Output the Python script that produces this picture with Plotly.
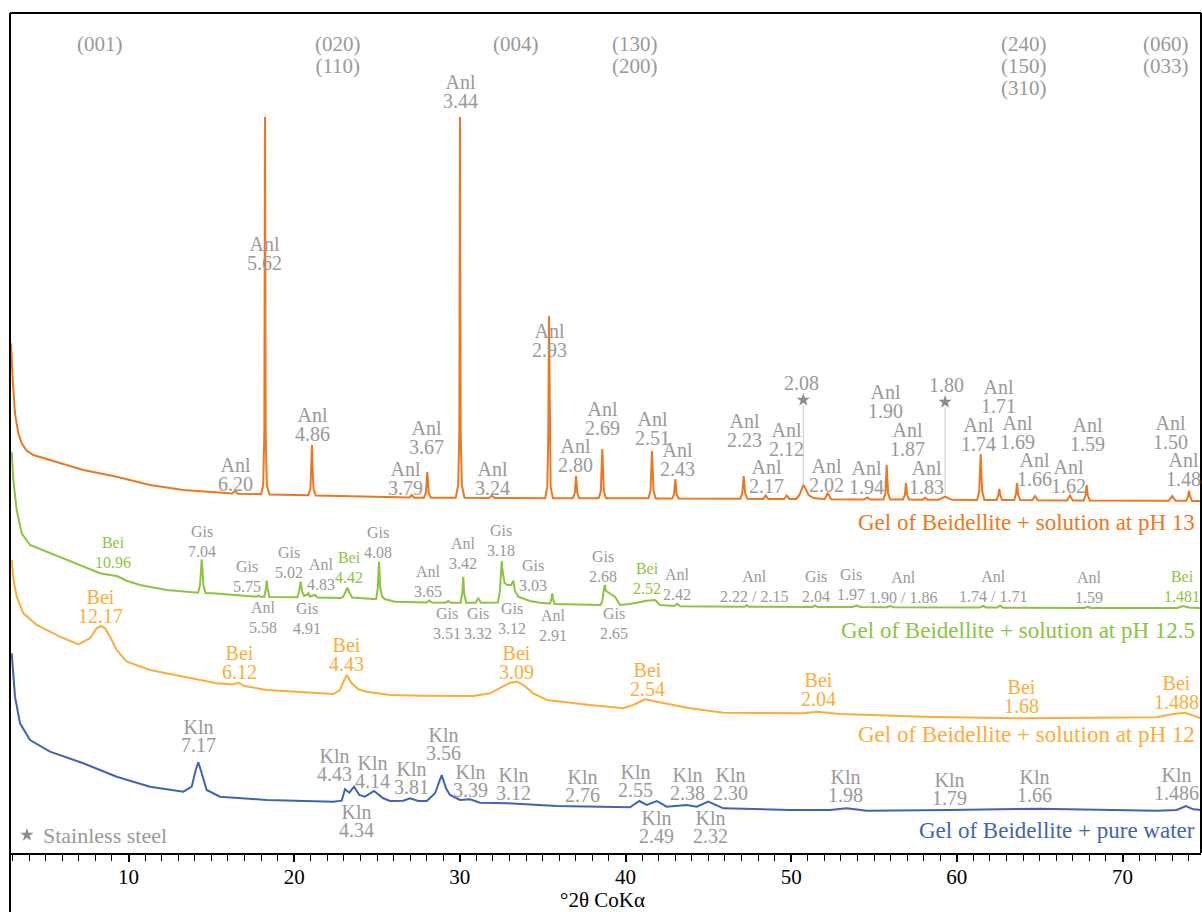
import plotly.graph_objects as go

# ---------------- data (2theta CoKa, relative intensity) ----------------
X_PH13 = [2.908, 3.010, 3.149, 3.348, 3.553, 3.855, 4.254, 5.262, 7.272, 9.288, 11.298, 13.308, 15.324,
          16.25, 16.43, 16.6, 17.738,
          18.0, 18.13, 18.2, 18.239, 18.28, 18.35, 18.5,
          20.0, 20.85, 20.98, 21.04, 21.076, 21.11, 21.17, 21.3,
          24.0, 26.8, 26.95, 27.094, 27.24,
          27.83, 27.95, 28.0, 28.036, 28.07, 28.12, 28.25,
          29.75, 29.9, 29.97, 30.01, 30.05, 30.12, 30.28,
          31.75, 31.923, 32.1,
          35.15, 35.28, 35.34, 35.382, 35.42, 35.48, 35.62,
          36.82, 36.94, 36.98, 37.012, 37.05, 37.09, 37.2,
          38.38, 38.51, 38.56, 38.599, 38.64, 38.69, 38.82,
          41.38, 41.51, 41.56, 41.599, 41.64, 41.69, 41.82,
          42.82, 42.93, 42.97, 43.005, 43.04, 43.08, 43.2,
          46.93, 47.05, 47.1, 47.134, 47.17, 47.22, 47.35,
          48.3, 48.462, 48.62,
          49.57, 49.73, 49.9,
          50.3, 50.5, 50.65, 50.732, 50.85, 51.05, 51.35, 51.7,
          52.02, 52.15, 52.205, 52.27, 52.4,
          54.4, 54.595, 54.78,
          55.57, 55.69, 55.73, 55.766, 55.8, 55.85, 55.97,
          56.75, 56.86, 56.9, 56.931, 56.96, 57.0, 57.12,
          57.93, 58.078, 58.23,
          58.9, 59.285, 59.7,
          61.22, 61.35, 61.4, 61.44, 61.48, 61.53, 61.66,
          62.4, 62.5, 62.562, 62.62, 62.73,
          63.46, 63.57, 63.631, 63.69, 63.82,
          64.55, 64.717, 64.88,
          66.65, 66.829, 67.0,
          67.66, 67.77, 67.838, 67.9, 68.02,
          72.8, 73.005, 73.2,
          73.85, 73.96, 74.013, 74.07, 74.2, 74.74]
Y_PH13 = [509.7, 473, 439.7, 419.7, 409.7, 402.3, 398, 393, 383, 376.3, 368, 363, 360.3,
          359.5, 362, 359.3, 359,
          358.8, 368, 420, 736, 420, 368, 358.5,
          358, 357.8, 364, 385, 408, 385, 364, 357.5,
          356.5, 355.5, 355.5, 358, 355.3,
          355.3, 360, 372, 381, 372, 360, 355.3,
          355.3, 368, 420, 736, 420, 368, 355.2,
          355, 357.3, 355,
          354.8, 366, 420, 537, 420, 366, 354.8,
          354.8, 360, 370, 377, 370, 360, 354.8,
          354.8, 362, 385, 404, 385, 362, 354.8,
          354.7, 362, 385, 402, 385, 362, 354.6,
          354.5, 359, 368, 374, 368, 359, 354.5,
          354.2, 360, 370, 377, 370, 360, 354.2,
          354, 357.5, 354,
          354, 357.5, 354,
          354, 358, 365, 368, 365, 358, 355, 354,
          353.8, 358, 360, 358, 353.8,
          353.5, 355.5, 353.5,
          353.5, 360, 375, 388, 375, 360, 353.5,
          353.5, 358, 365, 370, 365, 358, 353.5,
          353.2, 355.5, 353.2,
          353.2, 356.5, 353.2,
          353, 362, 380, 399, 380, 362, 353,
          353, 358, 364, 358, 353,
          353, 359, 370, 359, 353,
          352.8, 357, 352.8,
          352.5, 357.5, 352.5,
          352.5, 358, 368, 358, 352.5,
          352.3, 357, 352.2,
          352.2, 357, 362, 357, 352, 352]

X_PH125 = [2.950, 3.046, 3.251, 3.553, 4.054, 5.262, 7.272, 8.280, 8.883, 9.288, 9.891, 10.694, 12.306, 13.911,
           14.2, 14.32, 14.38, 14.418, 14.46, 14.52, 14.65,
           15.119, 17.738, 17.835, 17.95,
           18.2, 18.3, 18.342, 18.39, 18.5,
           20.2, 20.3, 20.394, 20.47, 20.6, 20.75, 20.853, 20.95, 21.257, 21.4,
           22.8, 22.95, 23.1, 23.207, 23.32, 23.5, 24.8,
           24.95, 25.05, 25.09, 25.12, 25.15, 25.2, 25.3, 25.45, 26.086,
           28.0, 28.157, 28.3,
           29.15, 29.303, 29.45,
           30.05, 30.15, 30.209, 30.26, 30.38,
           30.95, 31.114, 31.28,
           32.3, 32.42, 32.49, 32.527, 32.58, 32.7, 32.866, 33.1, 33.227, 33.33, 33.529, 34.235, 34.839,
           35.45, 35.53, 35.581, 35.63, 35.72,
           38.5, 38.6, 38.68, 38.744, 38.82, 39.064, 39.366, 39.668,
           40.271, 41.279, 41.781, 42.083,
           42.95, 43.126, 43.3,
           45.0, 47.2, 47.315, 47.45, 51.3, 51.438, 51.6, 53.7, 53.955, 54.2, 55.8, 55.965, 56.2,
           61.4, 61.579, 61.75, 62.45, 62.605, 62.8, 67.7, 67.9, 68.1, 73.3, 73.651, 74.0, 74.74]
Y_PH125 = [401.3, 373, 343, 319.7, 308, 299.7, 286.3, 279.7, 278, 277, 272.3, 268, 263, 260.7,
           260.3, 268, 285, 293.7, 285, 268, 260,
           259.7, 256.3, 257.5, 256.2,
           256.2, 265, 272.3, 265, 256,
           255.7, 262, 271.3, 262, 257, 258, 259.7, 256.5, 258, 255.5,
           255, 256, 261, 265.3, 261, 255.5, 254,
           254, 265, 282, 291.3, 282, 265, 257, 254, 251.3,
           250.5, 252.5, 250.5,
           250.3, 252, 250.3,
           250.3, 260, 276.3, 260, 250.3,
           250.3, 254.7, 250.3,
           250.5, 262, 285, 292, 282, 270, 268, 268, 272.3, 262, 256.3, 252, 250.3,
           249.5, 254, 259.7, 254, 249,
           248, 252, 262, 268, 262, 259.7, 256.3, 248,
           249, 252.3, 253, 248,
           247, 249.3, 246.8,
           246.5, 246.3, 247.8, 246.3, 246.1, 247.5, 246, 246, 247.5, 246, 245.8, 247, 245.8,
           245.5, 247, 245.5, 245.4, 247.5, 245.3, 245, 246.3, 245, 245, 247, 245.5, 244.7]

X_PH12 = [2.950, 3.046, 3.251, 3.650, 4.459, 5.865, 6.970, 7.676, 8.080, 8.322, 8.582, 8.883, 9.288, 9.891,
          11.298, 13.308, 15.324, 16.3, 16.628, 17.0, 18.342, 22.362,
          22.766, 22.966, 23.171, 23.473, 23.871, 24.378, 25.380,
          25.785, 27.795, 30.813, 31.821, 32.424, 33.028, 33.469, 33.831, 34.434, 35.243, 37.857, 39.867,
          40.472, 41.177, 41.883, 42.885, 43.893, 45.903, 49.929,
          50.732, 51.541, 52.948, 57.975, 64.011, 72.063, 73.067, 73.771, 74.273, 74.737]
Y_PH12 = [293, 274.7, 256.3, 239.7, 228, 216.3, 208.7, 214.7, 224.7, 227, 224.7, 216.3, 203, 191.3,
          183, 176.3, 169.7, 168.5, 170.5, 167, 163, 159,
          163, 171.3, 178, 169.7, 163.7, 161.3, 159,
          158, 157.3, 157, 159.7, 164.7, 170.3, 171.3, 168, 159.7, 153, 148, 144.7,
          148, 153.7, 151.3, 148, 144.7, 140.3, 139.7,
          139.7, 141.3, 139, 136.3, 134.7, 135.7, 139, 140.3, 137, 134.7]

X_WATER = [2.950, 3.046, 3.149, 3.451, 4.054, 5.262, 7.272, 9.288, 11.298, 13.308,
           13.815, 14.056, 14.213, 14.418, 14.720, 15.523, 18.342, 22.362,
           22.869, 23.068, 23.328, 23.612, 23.932, 24.276, 24.819, 25.380,
           25.785, 26.588, 26.992, 27.493, 28.000, 28.501, 28.905, 29.164, 29.406, 30.010, 30.613, 31.217,
           32.907, 35.847, 40.271, 40.832, 41.279, 41.883, 42.487, 43.694, 44.297, 44.997, 45.903, 49.929,
           52.344, 53.352, 54.558, 59.587, 64.917, 72.063, 73.271, 73.831, 74.273, 74.737]
Y_WATER = [199.7, 173, 156.3, 129.7, 113, 101.3, 89.7, 76.3, 66.3, 61.3,
           66.3, 83, 90.7, 79.7, 63, 56.3, 53, 51.3,
           52.3, 63.7, 60.3, 66.3, 58, 56.3, 62, 54.7,
           52, 52.3, 54.7, 52, 52, 59.7, 78, 64.7, 58, 53, 53.7, 50.3,
           49.7, 47, 45.7, 52, 48, 52, 46.3, 48, 46.3, 51.3, 44.7, 43,
           43, 44.7, 42.3, 43, 44.3, 42.3, 43, 47, 43.7, 43]

# stainless-steel reflections (star markers) and leader lines
STAR_X = [50.73, 59.29]
STAR_Y = [453, 451]
STAR_PEAK_Y = [368, 358]

# ---------------- labels: (line1, line2, x, y of first line) ----------------
LBL_PH13 = [("Anl", "6.20", 16.428, 388), ("Anl", "5.62", 18.179, 609), ("Anl", "4.86", 21.119, 438),
            ("Anl", "3.79", 26.690, 384), ("Anl", "3.67", 28.000, 425), ("Anl", "3.44", 30.010, 771),
            ("Anl", "3.24", 31.983, 384), ("Anl", "2.93", 35.382, 522), ("Anl", "2.80", 36.951, 407),
            ("Anl", "2.69", 38.581, 444), ("Anl", "2.51", 41.599, 434), ("Anl", "2.43", 43.126, 403),
            ("Anl", "2.23", 47.176, 432), ("Anl", "2.17", 48.523, 386), ("Anl", "2.12", 49.730, 423),
            ("2.08", None, 50.634, 470), ("Anl", "2.02", 52.102, 387), ("Anl", "1.94", 54.517, 385),
            ("Anl", "1.90", 55.664, 461), ("Anl", "1.87", 57.010, 423), ("Anl", "1.83", 58.139, 385),
            ("1.80", None, 59.345, 468), ("Anl", "1.71", 62.502, 466), ("Anl", "1.74", 61.295, 428),
            ("Anl", "1.69", 63.650, 430), ("Anl", "1.66", 64.676, 393), ("Anl", "1.62", 66.728, 386),
            ("Anl", "1.59", 67.899, 428), ("Anl", "1.50", 72.866, 430), ("Anl", "1.48", 73.668, 393)]

LBL_PH125 = [("Gis", "7.04", 14.455, 321), ("Gis", "5.75", 17.135, 286), ("Anl", "5.58", 18.137, 245),
             ("Gis", "5.02", 19.706, 300), ("Anl", "4.83", 21.601, 288), ("Gis", "4.91", 20.793, 244),
             ("Gis", "4.08", 25.078, 320), ("Anl", "3.65", 28.096, 281), ("Anl", "3.42", 30.172, 309),
             ("Gis", "3.18", 32.485, 322), ("Gis", "3.03", 34.398, 287), ("Gis", "3.51", 29.243, 239),
             ("Gis", "3.32", 31.115, 239), ("Gis", "3.12", 33.130, 244), ("Anl", "2.91", 35.642, 237),
             ("Gis", "2.68", 38.623, 296), ("Gis", "2.65", 39.305, 239), ("Anl", "2.42", 43.126, 278),
             ("Anl", "2.22 / 2.15", 47.738, 276), ("Gis", "2.04", 51.499, 276), ("Gis", "1.97", 53.611, 278),
             ("Anl", "1.90 / 1.86", 56.768, 275), ("Anl", "1.74 / 1.71", 62.164, 276), ("Anl", "1.59", 67.996, 275)]
LBL_PH125_BEI = [("Bei", "10.96", 9.083, 310), ("Bei", "4.42", 23.328, 295), ("Bei", "2.52", 41.279, 284),
                 ("Bei", "1.481", 73.571, 276)]

LBL_PH12 = [("Bei", "12.17", 8.280, 256), ("Bei", "6.12", 16.688, 200), ("Bei", "4.43", 23.171, 208),
            ("Bei", "3.09", 33.432, 200), ("Bei", "2.54", 41.315, 183), ("Bei", "2.04", 51.637, 173),
            ("Bei", "1.68", 63.915, 166), ("Bei", "1.488", 73.271, 170)]

LBL_WATER = [("Kln", "7.17", 14.213, 126), ("Kln", "4.43", 22.422, 97), ("Kln", "4.14", 24.740, 90),
             ("Kln", "4.34", 23.732, 41), ("Kln", "3.81", 27.094, 84), ("Kln", "3.56", 29.002, 118),
             ("Kln", "3.39", 30.613, 81), ("Kln", "3.12", 33.227, 78), ("Kln", "2.76", 37.392, 76),
             ("Kln", "2.55", 40.615, 81), ("Kln", "2.49", 41.883, 35), ("Kln", "2.38", 43.730, 78),
             ("Kln", "2.32", 45.142, 35), ("Kln", "2.30", 46.350, 78), ("Kln", "1.98", 53.249, 76),
             ("Kln", "1.79", 59.527, 73), ("Kln", "1.66", 64.676, 76), ("Kln", "1.486", 73.271, 78)]

HKL = [(["(001)"], 8.280), (["(020)", "(110)"], 22.664), (["(004)"], 33.390),
       (["(130)", "(200)"], 40.573), (["(240)", "(150)", "(310)"], 64.054), (["(060)", "(033)"], 72.626)]

SERIES_NAMES = ["Gel of Beidellite + solution at pH 13", "Gel of Beidellite + solution at pH 12.5",
                "Gel of Beidellite + solution at pH 12", "Gel of Beidellite + pure water"]
NAME_Y = [331, 223, 119, 23]

# ---------------- style ----------------
FONT = "Liberation Serif, Tinos, Times New Roman, Times, Nimbus Roman, DejaVu Serif, serif"
C_OR = "#EC7721"
C_GR = "#8CC43F"
C_YE = "#FBAD3A"
C_BL = "#4065B0"
GREY = "#999999"
COLORS = [C_OR, C_GR, C_YE, C_BL]
LINE_SPACING = 1.3  # plotly's multi-line spacing (em of the annotation font)

fig = go.Figure()
for xs, ys, c in [(X_PH13, Y_PH13, C_OR), (X_PH125, Y_PH125, C_GR), (X_PH12, Y_PH12, C_YE), (X_WATER, Y_WATER, C_BL)]:
    fig.add_trace(go.Scatter(x=xs, y=ys, mode="lines", line=dict(color=c, width=2), hoverinfo="skip"))

# leader lines for stainless steel peaks
for sx, sy, py in zip(STAR_X, STAR_Y, STAR_PEAK_Y):
    fig.add_trace(go.Scatter(x=[sx, sx], y=[sy - 5, py], mode="lines",
                             line=dict(color="#c8c8c8", width=1), hoverinfo="skip"))
fig.add_trace(go.Scatter(x=STAR_X, y=STAR_Y, mode="markers",
                         marker=dict(symbol="star", size=10, color="#8c8c8c"), hoverinfo="skip"))
# legend star
fig.add_trace(go.Scatter(x=[3.87], y=[18], mode="markers",
                         marker=dict(symbol="star", size=10, color="#8c8c8c"), hoverinfo="skip"))

ann = []


def add_block(lines, x, y_first, size, gap, color):
    """Stacked lines in one text element; line pitch = gap px, glyph size = size px."""
    if len(lines) == 1:
        ann.append(dict(x=x, y=y_first, text=lines[0], showarrow=False, xanchor="center", yanchor="middle",
                        font=dict(family=FONT, size=size, color=color)))
        return
    txt = "<br>".join('<span style="font-size:%dpx">%s</span>' % (size, t) for t in lines)
    yc = y_first - gap * (len(lines) - 1) / 2.0
    ann.append(dict(x=x, y=yc, text=txt, showarrow=False, xanchor="center", yanchor="middle",
                    font=dict(family=FONT, size=gap / LINE_SPACING, color=color)))


def lines_of(l1, l2):
    return [l1] if l2 is None else [l1, l2]


for l1, l2, x, y in LBL_PH13:
    add_block(lines_of(l1, l2), x, y, 20, 18.5, GREY)
for l1, l2, x, y in LBL_PH125:
    add_block(lines_of(l1, l2), x, y, 16, 19.5, GREY)
for l1, l2, x, y in LBL_PH125_BEI:
    add_block(lines_of(l1, l2), x, y, 16, 19.5, C_GR)
for l1, l2, x, y in LBL_PH12:
    add_block(lines_of(l1, l2), x, y, 20, 18.5, C_YE)
for l1, l2, x, y in LBL_WATER:
    add_block(lines_of(l1, l2), x, y, 20, 18.3, GREY)
for lines, x in HKL:
    add_block(lines, x, 809, 21, 22, GREY)
for name, y, c in zip(SERIES_NAMES, NAME_Y, COLORS):
    ann.append(dict(x=1, xref="paper", xshift=-4, y=y, text=name, showarrow=False, xanchor="right",
                    yanchor="middle", font=dict(family=FONT, size=23, color=c)))
ann.append(dict(x=4.72, y=18, text="Stainless steel", showarrow=False, xanchor="left", yanchor="middle",
                font=dict(family=FONT, size=22, color=GREY)))
ann.append(dict(x=0.4975, xref="paper", y=-0.0559, yref="paper", text="°2θ CoKα", showarrow=False,
                xanchor="center", yanchor="middle", font=dict(family=FONT, size=21, color="black")))

shapes = [
    dict(type="line", xref="paper", yref="paper", x0=0, x1=1, y0=1, y1=1, line=dict(color="black", width=2)),
    dict(type="line", xref="paper", yref="paper", x0=0, x1=0, y0=1, y1=-0.075, line=dict(color="black", width=2)),
    dict(type="line", xref="paper", yref="paper", x0=1, x1=1, y0=1, y1=0, line=dict(color="black", width=2)),
]

fig.update_layout(
    width=1202, height=912,
    margin=dict(l=10, r=1, t=13, b=59, pad=0),
    paper_bgcolor="white", plot_bgcolor="white",
    showlegend=False,
    annotations=ann,
    shapes=shapes,
    font=dict(family=FONT),
    xaxis=dict(range=[2.847, 74.737], showgrid=False, zeroline=False,
               showline=True, linecolor="black", linewidth=2,
               ticks="outside", ticklen=7, tickwidth=1.5, tickcolor="black",
               tick0=10, dtick=10, tickfont=dict(family=FONT, size=21, color="black"),
               ticklabelstandoff=-3,
               minor=dict(ticks="outside", ticklen=6, tickwidth=1.2, tickcolor="black", dtick=1, tick0=0, showgrid=False)),
    yaxis=dict(range=[0, 840], visible=False, showgrid=False, zeroline=False),
)

fig.write_html("out.html")
